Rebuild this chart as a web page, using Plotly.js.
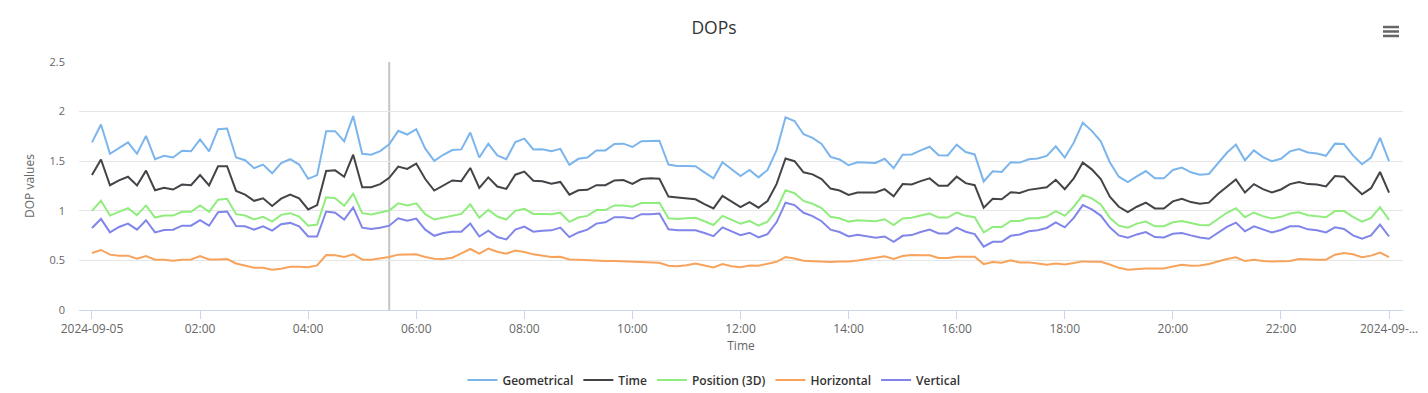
<!DOCTYPE html>
<html>
<head>
<meta charset="utf-8">
<script src="https://cdn.plot.ly/plotly-3.0.1.min.js"></script>
<style>html,body{margin:0;padding:0;background:#fff;}#chart{width:1428px;height:393px;}</style>
</head>
<body>
<div id="chart"></div>
<script>
// Sample times: 2024-09-05 00:00 to 2024-09-06 00:00 every 10 minutes (145 samples)
const startDay = '2024-09-05';
const stepMinutes = 10;
const sampleCount = 145;

const geometrical = [
  1.69,1.87,1.575,1.636,1.69,1.575,1.755,1.52,1.554,1.537,
  1.605,1.6,1.72,1.6,1.823,1.83,1.537,1.51,1.43,1.466,
  1.378,1.48,1.52,1.466,1.322,1.36,1.803,1.803,1.7,1.956,
  1.575,1.565,1.602,1.67,1.806,1.769,1.823,1.626,1.503,1.565,
  1.612,1.619,1.789,1.537,1.677,1.558,1.52,1.694,1.728,1.619,
  1.62,1.6,1.624,1.463,1.524,1.537,1.609,1.609,1.673,1.677,
  1.643,1.701,1.707,1.707,1.466,1.452,1.452,1.449,1.388,1.327,
  1.49,1.422,1.35,1.412,1.337,1.412,1.609,1.942,1.905,1.772,
  1.735,1.673,1.544,1.517,1.459,1.49,1.486,1.483,1.524,1.429,
  1.565,1.568,1.609,1.646,1.561,1.558,1.667,1.592,1.568,1.296,
  1.398,1.391,1.49,1.486,1.52,1.527,1.554,1.65,1.537,1.687,
  1.888,1.806,1.701,1.49,1.344,1.289,1.347,1.401,1.327,1.327,
  1.412,1.435,1.388,1.364,1.371,1.48,1.585,1.667,1.51,1.609,
  1.541,1.5,1.525,1.599,1.622,1.588,1.578,1.554,1.677,1.673,
  1.558,1.469,1.537,1.735,1.5
];
const timeDop = [
  1.36,1.517,1.258,1.306,1.343,1.255,1.405,1.207,1.231,1.214,
  1.265,1.258,1.36,1.255,1.449,1.449,1.2,1.163,1.1,1.126,
  1.048,1.122,1.163,1.126,1.014,1.058,1.401,1.408,1.343,1.565,
  1.238,1.238,1.269,1.333,1.446,1.422,1.476,1.32,1.204,1.258,
  1.306,1.299,1.432,1.231,1.337,1.245,1.221,1.364,1.395,1.303,
  1.298,1.274,1.291,1.163,1.207,1.211,1.258,1.258,1.306,1.31,
  1.272,1.32,1.327,1.323,1.143,1.133,1.126,1.116,1.068,1.024,
  1.15,1.092,1.037,1.088,1.031,1.099,1.269,1.527,1.5,1.388,
  1.367,1.32,1.224,1.204,1.16,1.184,1.184,1.184,1.218,1.146,
  1.269,1.265,1.299,1.327,1.252,1.252,1.344,1.279,1.258,1.031,
  1.122,1.116,1.187,1.18,1.211,1.224,1.238,1.313,1.218,1.327,
  1.486,1.418,1.32,1.143,1.041,0.986,1.041,1.082,1.024,1.024,
  1.095,1.122,1.088,1.071,1.082,1.17,1.248,1.316,1.184,1.269,
  1.218,1.184,1.215,1.269,1.289,1.269,1.265,1.245,1.35,1.344,
  1.252,1.167,1.228,1.391,1.184
];
const position3D = [
  1.0,1.102,0.952,0.99,1.027,0.956,1.054,0.932,0.952,0.952,
  0.99,0.99,1.054,0.99,1.112,1.122,0.966,0.952,0.912,0.939,
  0.891,0.959,0.976,0.942,0.85,0.862,1.136,1.126,1.051,1.173,
  0.976,0.963,0.98,1.003,1.075,1.054,1.075,0.966,0.912,0.929,
  0.946,0.969,1.065,0.929,1.01,0.942,0.912,1.0,1.02,0.969,
  0.969,0.965,0.981,0.888,0.932,0.949,1.007,1.007,1.054,1.054,
  1.041,1.078,1.078,1.082,0.925,0.918,0.925,0.929,0.895,0.857,
  0.949,0.912,0.871,0.898,0.85,0.891,1.014,1.207,1.177,1.099,
  1.071,1.027,0.939,0.925,0.891,0.905,0.901,0.895,0.915,0.857,
  0.922,0.929,0.952,0.973,0.932,0.932,0.983,0.949,0.935,0.782,
  0.837,0.837,0.898,0.898,0.925,0.925,0.942,0.997,0.949,1.041,
  1.16,1.126,1.065,0.929,0.85,0.83,0.871,0.891,0.844,0.844,
  0.884,0.898,0.878,0.857,0.854,0.918,0.98,1.027,0.935,0.983,
  0.946,0.922,0.939,0.973,0.986,0.956,0.949,0.935,0.997,0.997,
  0.939,0.891,0.929,1.037,0.908
];
const horizontal = [
  0.575,0.605,0.558,0.548,0.548,0.517,0.544,0.507,0.507,0.497,
  0.507,0.51,0.544,0.51,0.51,0.514,0.469,0.449,0.425,0.425,
  0.405,0.415,0.435,0.435,0.43,0.449,0.554,0.551,0.534,0.561,
  0.51,0.507,0.517,0.534,0.558,0.558,0.561,0.534,0.517,0.514,
  0.527,0.571,0.615,0.568,0.619,0.588,0.568,0.599,0.585,0.561,
  0.551,0.535,0.537,0.51,0.507,0.5,0.5,0.493,0.493,0.49,
  0.49,0.486,0.48,0.476,0.446,0.442,0.452,0.469,0.449,0.429,
  0.463,0.442,0.432,0.449,0.446,0.466,0.486,0.534,0.52,0.497,
  0.493,0.486,0.483,0.49,0.49,0.5,0.51,0.527,0.541,0.514,
  0.544,0.554,0.551,0.551,0.524,0.524,0.537,0.534,0.537,0.463,
  0.483,0.476,0.5,0.48,0.48,0.468,0.456,0.469,0.459,0.473,
  0.49,0.486,0.486,0.459,0.425,0.405,0.412,0.418,0.418,0.418,
  0.439,0.456,0.446,0.449,0.463,0.49,0.514,0.531,0.493,0.507,
  0.493,0.488,0.488,0.493,0.514,0.507,0.507,0.507,0.558,0.575,
  0.561,0.531,0.548,0.578,0.534
];
const vertical = [
  0.827,0.918,0.782,0.837,0.871,0.81,0.905,0.782,0.806,0.81,
  0.85,0.85,0.905,0.85,0.986,0.993,0.847,0.844,0.81,0.844,
  0.8,0.864,0.878,0.844,0.741,0.741,0.993,0.98,0.912,1.034,
  0.83,0.816,0.83,0.85,0.925,0.901,0.922,0.81,0.748,0.776,
  0.789,0.789,0.871,0.741,0.8,0.735,0.711,0.81,0.84,0.789,
  0.798,0.803,0.83,0.735,0.782,0.81,0.871,0.884,0.935,0.935,
  0.922,0.966,0.966,0.973,0.813,0.803,0.803,0.803,0.776,0.745,
  0.833,0.796,0.755,0.779,0.731,0.765,0.884,1.082,1.058,0.98,
  0.946,0.895,0.81,0.786,0.741,0.759,0.741,0.728,0.741,0.687,
  0.748,0.755,0.786,0.81,0.772,0.772,0.83,0.789,0.765,0.639,
  0.687,0.687,0.748,0.762,0.793,0.803,0.827,0.884,0.833,0.929,
  1.058,1.014,0.952,0.833,0.752,0.728,0.762,0.786,0.735,0.731,
  0.769,0.776,0.752,0.731,0.718,0.782,0.837,0.881,0.793,0.844,
  0.81,0.782,0.806,0.844,0.844,0.813,0.803,0.782,0.833,0.816,
  0.752,0.718,0.752,0.861,0.741
];

const seriesNames = ['Geometrical', 'Time', 'Position (3D)', 'Horizontal', 'Vertical'];
const seriesColors = ['#7cb5ec', '#434348', '#90ed7d', '#f7a35c', '#8085e9'];

const xTickLabels = ['2024-09-05','02:00','04:00','06:00','08:00','10:00','12:00',
                     '14:00','16:00','18:00','20:00','22:00','2024-09-…'];
const yTickLabels = ['0','0.5','1','1.5','2','2.5'];
const yTickValues = [0, 0.5, 1, 1.5, 2, 2.5];
const crosshairTime = '2024-09-05 05:30';

function pad(n){ return (n < 10 ? '0' : '') + n; }
function stampFor(minutes){
  const dayOffset = Math.floor(minutes / 1440);
  const m = minutes % 1440;
  const day = dayOffset === 0 ? startDay : '2024-09-06';
  return day + ' ' + pad(Math.floor(m / 60)) + ':' + pad(m % 60);
}
const times = [];
for (let i = 0; i < sampleCount; i++) times.push(stampFor(i * stepMinutes));
const xTickValues = [];
for (let h = 0; h <= 24; h += 2) xTickValues.push(stampFor(h * 60));

const FONT = '"Open Sans", "Noto Sans", sans-serif';
const values = [geometrical, timeDop, position3D, horizontal, vertical];
const traces = values.map((v, k) => ({
  type: 'scatter', mode: 'lines', x: times, y: v, name: seriesNames[k],
  line: {color: seriesColors[k], width: 2}
}));

const hamburgerY = [1.141, 1.123, 1.105];
const shapes = [{
  type: 'line', xref: 'x', yref: 'paper', x0: crosshairTime, x1: crosshairTime, y0: 0, y1: 1,
  line: {color: '#c4c4c4', width: 2}, layer: 'below'
}].concat(hamburgerY.map(y => ({
  type: 'line', xref: 'paper', yref: 'paper', x0: 0.9849, x1: 0.997, y0: y, y1: y,
  line: {color: '#666666', width: 2.5}
})));

const layout = {
  width: 1428, height: 393,
  margin: {l: 79, r: 25, t: 62, b: 83, pad: 0},
  paper_bgcolor: '#ffffff', plot_bgcolor: '#ffffff',
  font: {family: FONT, color: '#666666', size: 11},
  title: {text: 'DOPs', font: {family: FONT, size: 17.5, color: '#333333'},
          xref: 'container', x: 0.5, xanchor: 'center', yref: 'container', y: 0.929, yanchor: 'middle'},
  showlegend: true,
  legend: {orientation: 'h', xref: 'container', x: 0.5, xanchor: 'center',
           yref: 'container', y: 0.033, yanchor: 'middle',
           font: {family: FONT, size: 12, color: '#333333', weight: 600},
           itemwidth: 30, tracegroupgap: 0},
  xaxis: {
    type: 'date', range: ['2024-09-04 23:45:36', '2024-09-06 00:15:30'],
    tickmode: 'array', tickvals: xTickValues, ticktext: xTickLabels,
    showgrid: false, zeroline: false, showline: true, linecolor: '#ccd6eb', linewidth: 1,
    ticks: 'outside', ticklen: 8, tickcolor: '#ccd6eb', tickwidth: 1,
    tickfont: {family: FONT, size: 12, color: '#666666'},
    title: {text: 'Time', font: {family: FONT, size: 12, color: '#666666'}, standoff: 4},
    fixedrange: true
  },
  yaxis: {
    range: [0, 2.5], tickmode: 'array', tickvals: yTickValues, ticktext: yTickLabels,
    showgrid: true, gridcolor: '#e6e6e6', gridwidth: 1, zeroline: false, showline: false,
    ticks: '', ticklabelstandoff: 13,
    tickfont: {family: FONT, size: 11, color: '#666666'},
    title: {text: 'DOP values', font: {family: FONT, size: 12, color: '#666666'}, standoff: 12},
    fixedrange: true
  },
  shapes: shapes,
  hovermode: false
};

Plotly.newPlot('chart', traces, layout, {displayModeBar: false, staticPlot: true});
</script>
</body>
</html>
